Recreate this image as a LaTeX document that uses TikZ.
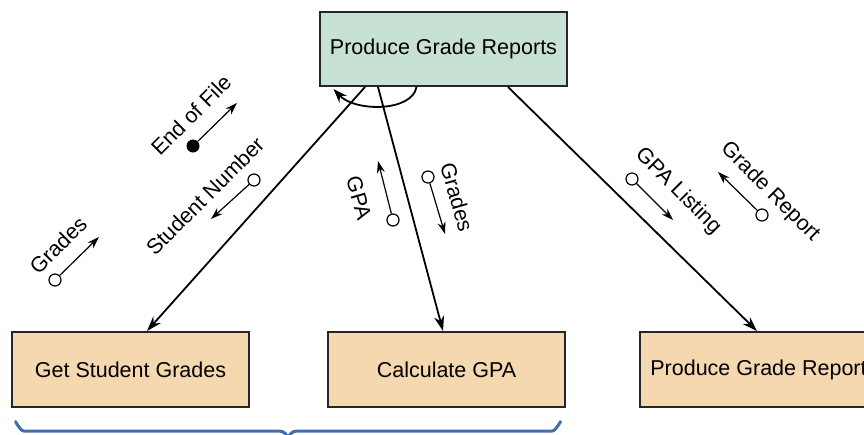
\documentclass[tikz,border=0pt]{standalone}
\usepackage{fontspec}
\setmainfont{Liberation Sans}
\usetikzlibrary{arrows.meta}
\definecolor{topfill}{HTML}{C7E1D5}
\definecolor{boxfill}{HTML}{F5D8B0}
\definecolor{braceblue}{HTML}{3F6FAF}
\tikzset{
  x=1pt, y=-1pt,
  every node/.style={font=\fontsize{21.5}{25}\selectfont},
  modbox/.style={draw=black!85, line width=2pt, minimum width=237pt, minimum height=75pt, inner sep=0pt},
  flow/.style={line width=1.8pt, -{Stealth[length=15pt,width=10pt]}},
  couple/.style={line width=1.2pt, -{Stealth[length=12pt,width=8pt]}},
  opencirc/.style={circle, draw, line width=1.2pt, fill=white, minimum size=12pt, inner sep=0pt},
  dotcirc/.style={circle, fill=black, minimum size=13pt, inner sep=0pt},
  lab/.style={inner sep=0pt},
  bracestyle/.style={draw=braceblue, line width=3pt}
}
\begin{document}
\begin{tikzpicture}
\useasboundingbox (0,0) rectangle (864,434);
% modules
\node[modbox, fill=topfill, minimum width=247pt, minimum height=74pt] (top) at (443.5,49) {Produce Grade Reports};
\node[modbox, fill=boxfill] (get) at (130.5,369.5) {Get Student Grades};
\node[modbox, fill=boxfill] (calc) at (446.5,369.5) {Calculate GPA};
\node[modbox, fill=boxfill] (rep) at (758.5,369.5) {Produce Grade Report};
% connectors
\draw[flow] ([xshift=-78.5pt]top.south) -- ([xshift=16.5pt]get.north);
\draw[flow] ([xshift=-65.5pt]top.south) -- ([xshift=-3.5pt]calc.north);
\draw[flow] ([xshift=64.5pt]top.south) -- ([xshift=-1.5pt]rep.north);
% loop
\draw[line width=1.8pt, -{Stealth[length=14pt,width=10pt]}] ([xshift=-27pt]top.south) .. controls (412,112) and (355,112) .. ([xshift=-110pt,yshift=-2pt]top.south);
% couples
\node[opencirc] (c1) at (55,280) {};
\coordinate (c1e) at (99,237);
\draw[couple] (c1) -- (c1e);
\node[lab, rotate=45] (l1) at (58,245) {Grades};

\node[dotcirc] (c2) at (193,146) {};
\coordinate (c2e) at (237,103);
\draw[couple] (c2) -- (c2e);
\node[lab, rotate=45] (l2) at (191,115) {End of File};

\node[opencirc] (c3) at (254,180) {};
\coordinate (c3e) at (211,219);
\draw[couple] (c3) -- (c3e);
\node[lab, rotate=45] (l3) at (205,196) {Student Number};

\node[opencirc] (c4) at (393,220) {};
\coordinate (c4e) at (378,161);
\draw[couple] (c4) -- (c4e);
\node[lab, rotate=-74] (l4) at (359,198) {GPA};

\node[opencirc] (c5) at (428,177) {};
\coordinate (c5e) at (445,234);
\draw[couple] (c5) -- (c5e);
\node[lab, rotate=-74] (l5) at (457,197) {Grades};

\node[opencirc] (c6) at (632,179) {};
\coordinate (c6e) at (673,220);
\draw[couple] (c6) -- (c6e);
\node[lab, rotate=-45] (l6) at (678,191) {GPA Listing};

\node[opencirc] (c7) at (762,215) {};
\coordinate (c7e) at (718,172);
\draw[couple] (c7) -- (c7e);
\node[lab, rotate=-45] (l7) at (770,192) {Grade Report};
% brace
\draw[bracestyle] (15,423) to[out=90,in=180] (24,431) -- (279,431) to[out=0,in=90] (288,440);
\draw[bracestyle] (288,440) to[out=90,in=180] (297,431) -- (552,431) to[out=0,in=90] (561,423);
\end{tikzpicture}
\end{document}
